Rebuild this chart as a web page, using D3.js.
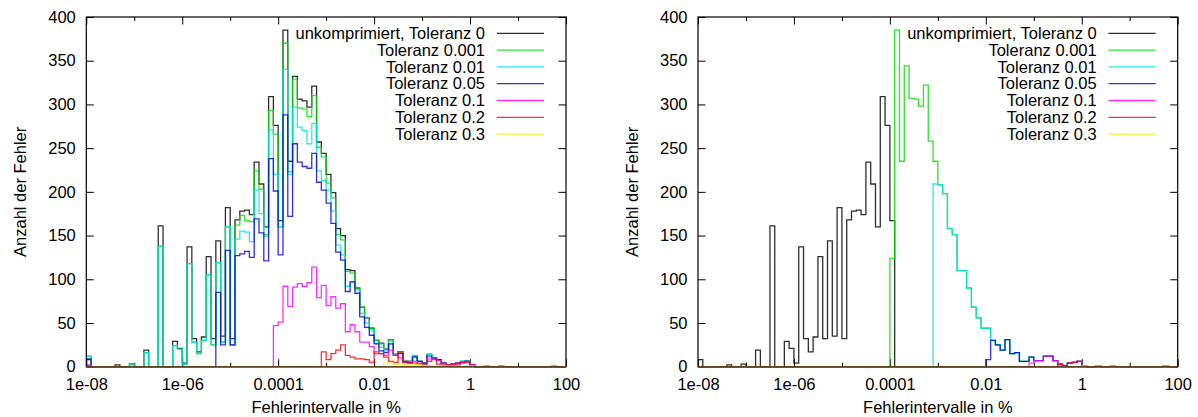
<!DOCTYPE html>
<html>
<head>
<meta charset="utf-8">
<script src="https://cdn.jsdelivr.net/npm/d3@7"></script>
<style>
html,body{margin:0;padding:0;background:#fff;}
svg{display:block;}
text{font-family:"Liberation Sans",Arial,Helvetica,sans-serif;fill:#000;}
</style>
</head>
<body>
<svg id="chart" width="1198" height="417"></svg>
<script>
// ---------- data ----------
// histogram bins: 100 log bins, 0.1 decade wide, from 1e-8 to 1e2 (in %)
const binFirstExp = -8;
const binCount = 100;
const binsPerDecade = 10;

const seriesNames = ["unkomprimiert, Toleranz 0","Toleranz 0.001","Toleranz 0.01","Toleranz 0.05","Toleranz 0.1","Toleranz 0.2","Toleranz 0.3"];
const seriesColors = ["#000000","#00dd00","#00e0e0","#0000e6","#ff00ff","#ff0000","#f0f000"];

const xTickValues = [1e-8,1e-6,1e-4,1e-2,1,100];
const xTickLabels = ["1e-08","1e-06","0.0001","0.01","1","100"];
const xMinorTicks = [1e-7,1e-5,1e-3,1e-1,10];
const yTickValues = [0,50,100,150,200,250,300,350,400];
const xAxisTitle = "Fehlerintervalle in %";
const yAxisTitle = "Anzahl der Fehler";

// left panel
const leftBlack = [
8,0,0,0,0,0,2,0,0,3,
0,0,19,0,0,161,0,0,29,21,
4,137,32,17,34,126,32,144,35,182,
32,168,178,179,174,234,209,160,309,276,
167,385,235,332,306,304,297,321,257,244,
220,199,158,150,111,110,90,68,56,44,
30,27,20,31,15,17,6,6,12,6,
4,14,10,8,4,2,3,4,6,7,
2,0,0,1,0,0,1,0,0,0,
0,0,0,0,0,0,0,1,0,0];
const leftGreen = [
12,0,0,0,0,0,0,0,0,3,
0,0,16,0,0,138,0,0,24,20,
3,118,28,15,30,105,25,119,28,160,
25,162,173,167,166,224,203,151,293,266,
160,370,223,329,296,295,286,310,251,240,
210,193,151,145,109,107,90,68,56,44,
30,26,20,31,15,17,6,6,12,6,
4,14,10,8,4,2,3,4,6,7,
2,0,0,0,0,0,0,0,0,0,
0,0,0,0,0,0,0,0,0,0];
const leftCyan = [
12,0,0,0,0,0,0,0,0,3,
0,0,16,0,0,138,0,0,24,20,
3,118,28,15,30,105,25,119,28,160,
25,146,155,154,143,202,175,149,271,220,
160,340,220,297,274,270,255,278,224,213,
202,178,139,128,92,97,88,61,50,42,
27,22,18,29,15,17,6,6,12,6,
4,14,10,8,4,2,3,4,6,7,
2,0,0,0,0,0,0,0,0,0,
0,0,0,0,0,0,0,0,0,0];
const leftBlue = [
9,0,0,0,0,0,0,0,0,0,
0,0,0,0,0,0,0,0,0,0,
0,0,0,0,0,0,0,85,25,133,
25,127,129,132,125,169,153,121,238,201,
128,288,172,255,234,229,227,244,211,202,
187,164,131,122,86,97,84,57,45,36,
26,18,16,26,13,15,6,5,11,6,
4,12,10,8,4,2,3,4,5,6,
2,0,0,0,0,0,0,0,0,0,
0,0,0,0,0,0,0,0,0,0];
const leftMagenta = [
2,0,0,0,0,0,0,0,0,0,
0,0,0,0,0,0,0,0,0,0,
0,0,0,0,0,0,0,0,0,0,
0,0,0,0,0,0,0,0,0,47,
51,92,69,91,95,92,96,114,79,93,
70,80,67,72,40,48,40,28,28,23,
15,15,13,19,13,10,5,4,6,4,
3,9,10,7,4,2,3,4,5,6,
2,0,0,0,0,0,0,0,0,0,
0,0,0,0,0,0,0,0,0,0];
const leftRed = [
1,0,0,0,0,0,0,0,0,0,
0,0,0,0,0,0,0,0,0,0,
0,0,0,0,0,0,0,0,0,0,
0,0,0,0,0,0,0,0,0,0,
0,0,0,0,0,0,0,0,0,17,
8,15,19,25,13,11,9,9,8,5,
17,15,11,6,5,17,5,4,4,3,
3,6,8,3,2,2,2,2,4,5,
1,0,0,1,0,0,1,0,0,0,
0,0,0,0,0,0,0,1,0,0];
const leftYellow = [
0,0,0,0,0,0,0,0,0,0,
0,0,0,0,0,0,0,0,0,0,
0,0,0,0,0,0,0,0,0,0,
0,0,0,0,0,0,0,0,0,0,
0,0,0,0,0,0,0,0,0,0,
0,0,0,0,0,0,0,0,0,0,
0,0,4,4,3,3,2,2,2,2,
1,1,1,1,1,1,0,0,0,1,
1,0,0,1,0,0,1,0,0,0,
0,0,0,0,0,0,0,1,0,0];

// right panel
const rightBlack = [
8,0,0,0,0,0,2,0,0,3,
0,0,19,0,0,161,0,0,29,21,
4,137,32,17,34,126,32,144,35,182,
32,168,178,179,174,234,209,160,309,276,
167,0,0,0,0,0,0,0,0,0,
0,0,0,0,0,0,0,0,0,0,
0,0,0,0,0,0,0,0,0,0,
0,0,0,0,0,0,0,0,0,0,
0,0,0,0,0,0,0,0,0,0,
0,0,0,0,0,0,0,0,0,0];
const rightGreen = [
0,0,0,0,0,0,0,0,0,0,
0,0,0,0,0,0,0,0,0,0,
0,0,0,0,0,0,0,0,0,0,
0,0,0,0,0,0,0,0,0,0,
124,385,235,344,307,306,298,322,258,235,
208,198,158,151,110,110,90,68,56,44,
44,30,25,19,31,15,16,6,6,11,
7,7,12,12,7,3,1,4,5,6,
1,0,0,1,0,0,1,0,0,0,
0,0,0,0,0,0,0,1,0,0];
const rightCyan = [
0,0,0,0,0,0,0,0,0,0,
0,0,0,0,0,0,0,0,0,0,
0,0,0,0,0,0,0,0,0,0,
0,0,0,0,0,0,0,0,0,0,
0,0,0,0,0,0,0,0,0,209,
208,198,158,151,110,110,90,68,56,44,
44,30,25,19,31,15,16,6,6,11,
7,7,12,12,7,3,1,4,5,6,
1,0,0,1,0,0,1,0,0,0,
0,0,0,0,0,0,0,1,0,0];
const rightBlue = [
0,0,0,0,0,0,0,0,0,0,
0,0,0,0,0,0,0,0,0,0,
0,0,0,0,0,0,0,0,0,0,
0,0,0,0,0,0,0,0,0,0,
0,0,0,0,0,0,0,0,0,0,
0,0,0,0,0,0,0,0,0,0,
8,30,25,19,31,15,16,6,6,11,
7,7,12,12,7,3,1,4,5,6,
1,0,0,1,0,0,1,0,0,0,
0,0,0,0,0,0,0,1,0,0];
const rightMagenta = [
0,0,0,0,0,0,0,0,0,0,
0,0,0,0,0,0,0,0,0,0,
0,0,0,0,0,0,0,0,0,0,
0,0,0,0,0,0,0,0,0,0,
0,0,0,0,0,0,0,0,0,0,
0,0,0,0,0,0,0,0,0,0,
0,0,0,0,0,0,0,0,0,4,
7,7,12,12,7,3,1,4,5,6,
1,0,0,1,0,0,1,0,0,0,
0,0,0,0,0,0,0,1,0,0];
const rightRed = [
0,0,0,0,0,0,0,0,0,0,
0,0,0,0,0,0,0,0,0,0,
0,0,0,0,0,0,0,0,0,0,
0,0,0,0,0,0,0,0,0,0,
0,0,0,0,0,0,0,0,0,0,
0,0,0,0,0,0,0,0,0,0,
0,0,0,0,0,0,0,0,0,0,
0,0,0,0,0,2,1,4,5,6,
1,0,0,1,0,0,1,0,0,0,
0,0,0,0,0,0,0,1,0,0];
const rightYellow = [
0,0,0,0,0,0,0,0,0,0,
0,0,0,0,0,0,0,0,0,0,
0,0,0,0,0,0,0,0,0,0,
0,0,0,0,0,0,0,0,0,0,
0,0,0,0,0,0,0,0,0,0,
0,0,0,0,0,0,0,0,0,0,
0,0,0,0,0,0,0,0,0,0,
0,0,0,0,0,0,0,0,0,0,
1,0,0,1,0,0,1,0,0,0,
0,0,0,0,0,0,0,1,0,0];

// ---------- drawing ----------
const svg = d3.select("#chart");
const FONT = 16.5;
const plotTop = 17, plotBottom = 366.7, plotWidth = 479.7;
const binEdges = d3.range(binCount + 1).map(i => Math.pow(10, binFirstExp + i / binsPerDecade));

const panels = [
  {left: 86.3, series: [leftBlack, leftGreen, leftCyan, leftBlue, leftMagenta, leftRed, leftYellow]},
  {left: 698, series: [rightBlack, rightGreen, rightCyan, rightBlue, rightMagenta, rightRed, rightYellow]}
];

panels.forEach(p => {
  const x = d3.scaleLog().domain([1e-8, 100]).range([p.left, p.left + plotWidth]);
  const y = d3.scaleLinear().domain([0, 400]).range([plotBottom, plotTop]);
  const g = svg.append("g");

  // axes (ticks inward, mirrored)
  const styleAxis = sel => {
    sel.select(".domain").remove();
    sel.selectAll(".tick line").attr("stroke", "#000").attr("stroke-width", 1);
    sel.selectAll("text").attr("font-size", FONT).attr("font-family", '"Liberation Sans",Arial,sans-serif').attr("fill", "#000");
  };
  g.append("g").attr("transform", `translate(0,${plotBottom})`)
    .call(d3.axisBottom(x).tickValues(xTickValues).tickSize(-7.5).tickPadding(12)
      .tickFormat((d, i) => xTickLabels[i])).call(styleAxis);
  g.append("g").attr("transform", `translate(0,${plotBottom})`)
    .call(d3.axisBottom(x).tickValues(xMinorTicks).tickSize(-4).tickFormat("")).call(styleAxis);
  g.append("g").attr("transform", `translate(0,${plotTop})`)
    .call(d3.axisTop(x).tickValues(xTickValues).tickSize(-7.5).tickFormat("")).call(styleAxis);
  g.append("g").attr("transform", `translate(0,${plotTop})`)
    .call(d3.axisTop(x).tickValues(xMinorTicks).tickSize(-4).tickFormat("")).call(styleAxis);
  g.append("g").attr("transform", `translate(${p.left},0)`)
    .call(d3.axisLeft(y).tickValues(yTickValues).tickSize(-7.5).tickPadding(10.5).tickFormat(d3.format("d"))).call(styleAxis);
  g.append("g").attr("transform", `translate(${p.left + plotWidth},0)`)
    .call(d3.axisRight(y).tickValues(yTickValues).tickSize(-7.5).tickFormat("")).call(styleAxis);

  // histogram step lines
  const line = d3.line().x(d => x(d[0])).y(d => y(d[1])).curve(d3.curveStepAfter);
  p.series.forEach((vals, si) => {
    const pts = vals.map((v, i) => [binEdges[i], v]);
    pts.push([binEdges[binCount], vals[binCount - 1]]);
    g.append("path").attr("d", line(pts)).attr("fill", "none")
      .attr("stroke", seriesColors[si]).attr("stroke-width", 1.3)
      .attr("stroke-opacity", 0.82).attr("stroke-linejoin", "miter");
  });

  // border
  g.append("rect").attr("x", p.left).attr("y", plotTop).attr("width", plotWidth)
    .attr("height", plotBottom - plotTop).attr("fill", "none").attr("stroke", "#000").attr("stroke-width", 1.2);
  g.append("line").attr("x1", p.left).attr("x2", p.left + plotWidth)
    .attr("y1", plotBottom).attr("y2", plotBottom).attr("stroke", "#5e4622").attr("stroke-width", 1.6);

  // legend
  const lx = p.left + 398.7;
  seriesNames.forEach((name, i) => {
    const ly = 33.3 + i * 16.8;
    g.append("text").attr("x", lx).attr("y", ly).attr("dy", "0.35em")
      .attr("text-anchor", "end").attr("font-size", FONT).text(name);
    g.append("line").attr("x1", p.left + 410.5).attr("x2", p.left + 457.7)
      .attr("y1", ly).attr("y2", ly).attr("stroke", seriesColors[i]).attr("stroke-width", 1.3).attr("stroke-opacity", 0.82);
  });

  // axis titles
  g.append("text").attr("x", p.left + plotWidth / 2).attr("y", 413)
    .attr("text-anchor", "middle").attr("font-size", FONT).text(xAxisTitle);
  g.append("text").attr("transform", `translate(${p.left - 60.5},${(plotTop + plotBottom) / 2}) rotate(-90)`)
    .attr("text-anchor", "middle").attr("font-size", FONT).text(yAxisTitle);
});
</script>
</body>
</html>
